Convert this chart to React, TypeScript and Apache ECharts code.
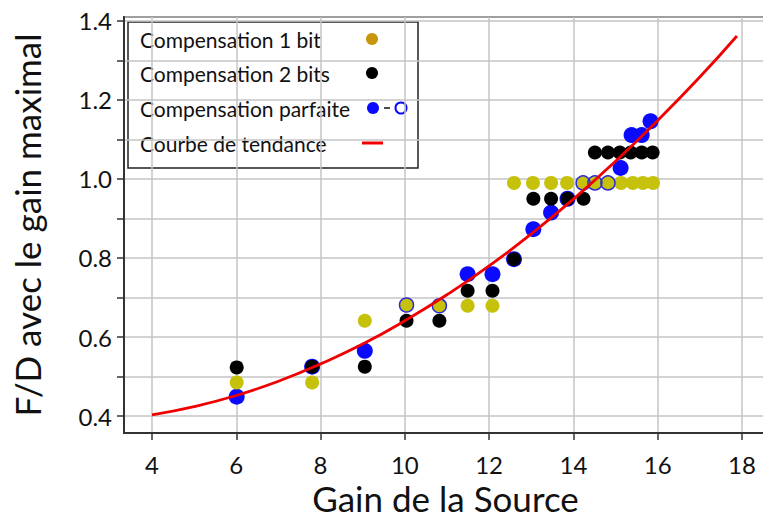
import React, { useEffect, useRef } from "react";
import * as echarts from "echarts";

// ---- data ----
const blueFilledX = [6.01, 7.8, 9.05, 11.49, 12.08, 12.59, 13.05, 13.47, 13.86, 15.12, 15.38, 15.62, 15.83];
const blueFilledY = [0.449, 0.525, 0.565, 0.759, 0.759, 0.797, 0.873, 0.915, 0.95, 1.028, 1.111, 1.111, 1.146];

const blueOpenX = [10.04, 10.82, 14.23, 14.51, 14.82];
const blueOpenY = [0.681, 0.679, 0.99, 0.99, 0.99];

const yellowX = [6.01, 7.8, 9.05, 10.04, 10.82, 11.49, 12.08, 12.59, 13.04, 13.47, 13.85, 14.23, 14.51, 14.82, 15.13, 15.41, 15.65, 15.89];
const yellowY = [0.485, 0.485, 0.641, 0.681, 0.679, 0.679, 0.679, 0.99, 0.99, 0.99, 0.99, 0.99, 0.99, 0.99, 0.99, 0.99, 0.99, 0.99];

const blackX = [6.01, 7.8, 9.05, 10.04, 10.82, 11.49, 12.08, 12.59, 13.05, 13.47, 13.86, 14.24, 14.51, 14.82, 15.1, 15.36, 15.62, 15.88];
const blackY = [0.523, 0.525, 0.525, 0.641, 0.641, 0.717, 0.717, 0.797, 0.95, 0.95, 0.95, 0.95, 1.067, 1.067, 1.067, 1.067, 1.067, 1.067];

const trendX = [4, 5, 6, 7, 8, 9, 10, 11, 12, 13, 14, 15, 16, 17, 17.88];
const trendY = [0.403, 0.424, 0.452, 0.488, 0.532, 0.582, 0.641, 0.707, 0.78, 0.861, 0.949, 1.045, 1.148, 1.258, 1.362];

const legendLabels = ["Compensation 1 bit", "Compensation 2 bits", "Compensation parfaite", "Courbe de tendance"];
const xTitle = "Gain de la Source";
const yTitle = "F/D avec le gain maximal";

const zip = (xs: number[], ys: number[]) => xs.map((x, i) => [x, ys[i]]);

const FONT = "Lato, 'Open Sans', sans-serif";
const BLUE = "#0a0aff";
const YELLOW = "#c6c10a";
const LEGEND_YELLOW = "#c8960c";

export default function App() {
  const ref = useRef<HTMLDivElement>(null);
  useEffect(() => {
    if (!ref.current) return;
    const chart = echarts.init(ref.current, undefined, { renderer: "svg" });
    const rowY = [39, 73, 108, 143];
    const option: any = {
      animation: false,
      backgroundColor: "#fff",
      grid: {
        left: 124,
        right: -4,
        top: 17,
        bottom: 90,
        containLabel: false,
        outerBoundsMode: "none",
        show: true,
        borderColor: "#333",
        borderWidth: 2,
      },
      xAxis: {
        type: "value",
        min: 3.336,
        max: 18.594,
        splitNumber: 7,
        name: xTitle,
        nameLocation: "middle",
        nameGap: 46,
        nameTextStyle: { fontFamily: FONT, fontSize: 35, color: "#111" },
        axisLine: { show: true, lineStyle: { color: "#333", width: 2 } },
        axisTick: { show: true, length: 7, lineStyle: { color: "#333", width: 1.5 } },
        axisLabel: {
          showMinLabel: false,
          showMaxLabel: false,
          fontFamily: FONT,
          fontSize: 24,
          color: "#111",
          margin: 19,
        },
        splitLine: { show: true, lineStyle: { color: "#c4c4c4", width: 1.5 } },
      },
      yAxis: {
        type: "value",
        min: 0.357,
        max: 1.41,
        splitNumber: 10,
        name: yTitle,
        nameLocation: "middle",
        nameGap: 80,
        nameRotate: 90,
        nameTextStyle: { fontFamily: FONT, fontSize: 35, color: "#111" },
        axisLine: { show: true, lineStyle: { color: "#333", width: 2 } },
        axisTick: { show: true, length: 7, lineStyle: { color: "#333", width: 1.5 } },
        axisLabel: {
          showMinLabel: false,
          showMaxLabel: false,
          fontFamily: FONT,
          fontSize: 24,
          color: "#111",
          margin: 12,
          formatter: (v: number) => (Math.round(v * 10) % 2 === 0 ? v.toFixed(1) : ""),
        },
        splitLine: { show: true, lineStyle: { color: "#c4c4c4", width: 1.5 } },
      },
      series: [
        {
          name: "parfaite",
          type: "scatter",
          data: zip(blueFilledX, blueFilledY),
          symbolSize: 16,
          itemStyle: { color: BLUE, opacity: 1 },
          z: 2,
        },
        {
          name: "1 bit",
          type: "scatter",
          data: zip(yellowX, yellowY),
          symbolSize: 14,
          itemStyle: { color: YELLOW, opacity: 1 },
          z: 3,
        },
        {
          name: "2 bits",
          type: "scatter",
          data: zip(blackX, blackY),
          symbolSize: 14,
          itemStyle: { color: "#000", opacity: 1 },
          z: 4,
        },
        {
          name: "parfaite open",
          type: "scatter",
          data: zip(blueOpenX, blueOpenY),
          symbolSize: 14,
          itemStyle: { color: "rgba(0,0,0,0)", borderColor: "#2a2ad8", borderWidth: 1.5, opacity: 1 },
          z: 5,
        },
        {
          name: "tendance",
          type: "line",
          data: zip(trendX, trendY),
          smooth: true,
          showSymbol: false,
          lineStyle: { color: "#f00000", width: 2.8 },
          z: 6,
        },
      ],
      graphic: [
        {
          type: "group",
          z: 100,
          children: [
            {
              type: "rect",
              shape: { x: 128, y: 22, width: 290, height: 146 },
              style: { fill: "#fff", stroke: "#222", lineWidth: 1.5 },
            },
            ...legendLabels.map((t, i) => ({
              type: "text",
              x: 140,
              y: rowY[i],
              style: { text: t, font: `21px ${FONT}`, fill: "#111", verticalAlign: "middle", align: "left" },
            })),
            { type: "circle", shape: { cx: 372, cy: rowY[0], r: 6 }, style: { fill: LEGEND_YELLOW } },
            { type: "circle", shape: { cx: 372, cy: rowY[1], r: 6 }, style: { fill: "#000" } },
            { type: "circle", shape: { cx: 373, cy: rowY[2], r: 6 }, style: { fill: BLUE } },
            { type: "line", shape: { x1: 384, y1: rowY[2], x2: 390, y2: rowY[2] }, style: { stroke: "#111", lineWidth: 1.5 } },
            { type: "circle", shape: { cx: 401, cy: rowY[2], r: 5.5 }, style: { fill: "#fff", stroke: BLUE, lineWidth: 2 } },
            { type: "line", shape: { x1: 362, y1: rowY[3], x2: 383, y2: rowY[3] }, style: { stroke: "#f00000", lineWidth: 3 } },
          ],
        },
      ],
    };
    chart.setOption(option);
    return () => chart.dispose();
  }, []);
  return (
    <div
      ref={ref}
      style={{ position: "fixed", left: 0, top: 0, width: 763, height: 523, background: "#fff" }}
    />
  );
}
